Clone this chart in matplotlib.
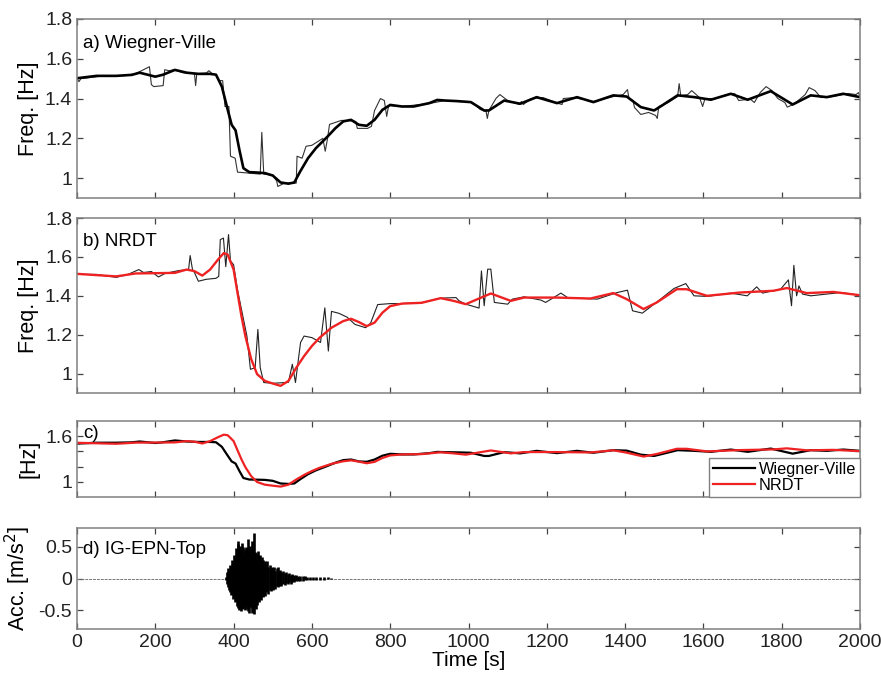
import matplotlib
matplotlib.use("Agg")
import matplotlib.pyplot as plt
from matplotlib.ticker import FormatStrFormatter

# ---- data ----
# a) Wiegner-Ville: raw estimate (thin) and smoothed (thick)
wv_raw_t = [0, 5, 10, 60, 120, 150, 175, 185, 190, 196, 220, 224, 235, 250, 270, 300, 303, 306,
            330, 337, 345, 355, 362, 372, 378, 388, 392, 404, 410, 440, 468, 472, 477, 500, 510,
            513, 530, 548, 560, 562, 575, 585, 600, 628, 634, 640, 645, 675, 690, 712, 716, 742,
            752, 760, 775, 785, 791, 796, 830, 900, 940, 972, 1000, 1010, 1030, 1045, 1048, 1052,
            1070, 1080, 1100, 1130, 1135, 1140, 1160, 1190, 1230, 1239, 1242, 1270, 1320, 1370,
            1395, 1406, 1410, 1420, 1424, 1440, 1460, 1478, 1482, 1486, 1510, 1534, 1538, 1542,
            1560, 1570, 1590, 1598, 1604, 1630, 1660, 1680, 1690, 1710, 1718, 1730, 1745, 1760,
            1775, 1790, 1808, 1814, 1830, 1860, 1870, 1885, 1900, 1930, 1970, 1990, 1996, 2000]
wv_raw_f = [1.50, 1.485, 1.50, 1.512, 1.515, 1.525, 1.55, 1.56, 1.47, 1.46, 1.465, 1.545, 1.54,
            1.545, 1.53, 1.525, 1.465, 1.525, 1.528, 1.54, 1.525, 1.52, 1.49, 1.49, 1.36, 1.36,
            1.11, 1.10, 1.03, 1.025, 1.02, 1.23, 1.02, 1.015, 0.985, 0.958, 0.975, 0.975, 0.975,
            1.11, 1.10, 1.16, 1.165, 1.20, 1.135, 1.20, 1.27, 1.29, 1.29, 1.285, 1.25, 1.25, 1.26,
            1.34, 1.40, 1.39, 1.31, 1.365, 1.36, 1.375, 1.39, 1.385, 1.385, 1.38, 1.345, 1.335,
            1.30, 1.34, 1.40, 1.42, 1.39, 1.37, 1.385, 1.37, 1.40, 1.405, 1.375, 1.37, 1.40,
            1.405, 1.385, 1.41, 1.42, 1.445, 1.40, 1.39, 1.355, 1.32, 1.33, 1.315, 1.30, 1.36,
            1.38, 1.41, 1.475, 1.415, 1.42, 1.44, 1.405, 1.36, 1.40, 1.40, 1.42, 1.425, 1.39,
            1.395, 1.40, 1.38, 1.43, 1.46, 1.44, 1.40, 1.38, 1.357, 1.37, 1.42, 1.455, 1.44,
            1.405, 1.41, 1.425, 1.42, 1.43, 1.41]

wv_t = [0, 50, 100, 140, 160, 180, 200, 220, 250, 280, 310, 340, 355, 370, 385, 395, 405, 415,
        425, 440, 460, 480, 500, 520, 540, 555, 570, 590, 610, 640, 660, 680, 700, 720, 740, 760,
        780, 800, 830, 860, 900, 920, 940, 972, 1006, 1040, 1052, 1091, 1132, 1174, 1226, 1277,
        1319, 1370, 1404, 1440, 1474, 1495, 1534, 1577, 1619, 1670, 1713, 1772, 1828, 1874, 1915,
        1957, 2000]
wv_f = [1.502, 1.514, 1.514, 1.519, 1.53, 1.52, 1.51, 1.52, 1.544, 1.53, 1.524, 1.524, 1.52,
        1.46, 1.343, 1.268, 1.24, 1.14, 1.05, 1.03, 1.028, 1.025, 1.013, 0.978, 0.972, 0.978,
        1.033, 1.10, 1.15, 1.209, 1.251, 1.285, 1.293, 1.268, 1.263, 1.293, 1.343, 1.368, 1.36,
        1.36, 1.377, 1.393, 1.39, 1.387, 1.382, 1.34, 1.34, 1.39, 1.374, 1.407, 1.377, 1.407,
        1.382, 1.416, 1.41, 1.357, 1.34, 1.366, 1.416, 1.407, 1.394, 1.424, 1.394, 1.437, 1.37,
        1.416, 1.407, 1.424, 1.407]

# b) NRDT: raw estimate (thin black) and smoothed (red)
nrdt_raw_t = [0, 50, 100, 130, 158, 170, 190, 208, 225, 260, 285, 289, 295, 300, 310, 330, 355,
              362, 366, 374, 380, 387, 392, 400, 410, 434, 443, 455, 462, 468, 477, 500, 540, 550,
              558, 571, 580, 600, 622, 633, 642, 650, 669, 690, 710, 737, 750, 768, 800, 830, 880,
              929, 968, 976, 993, 1027, 1033, 1040, 1049, 1057, 1066, 1100, 1112, 1142, 1185,
              1197, 1236, 1253, 1329, 1380, 1406, 1419, 1444, 1474, 1525, 1555, 1576, 1610, 1670,
              1712, 1736, 1751, 1797, 1817, 1825, 1831, 1838, 1844, 1853, 1874, 1951, 2000]
nrdt_raw_f = [1.51, 1.51, 1.495, 1.51, 1.535, 1.52, 1.525, 1.497, 1.515, 1.53, 1.535, 1.607,
              1.535, 1.52, 1.475, 1.485, 1.49, 1.50, 1.689, 1.697, 1.55, 1.715, 1.58, 1.56, 1.43,
              1.193, 1.022, 1.03, 1.227, 1.03, 0.954, 0.95, 0.955, 1.048, 0.954, 1.16, 1.193,
              1.185, 1.16, 1.338, 1.116, 1.32, 1.31, 1.29, 1.253, 1.236, 1.26, 1.355, 1.36, 1.36,
              1.365, 1.388, 1.391, 1.374, 1.357, 1.337, 1.528, 1.349, 1.537, 1.537, 1.366, 1.357,
              1.383, 1.395, 1.378, 1.366, 1.414, 1.391, 1.383, 1.417, 1.429, 1.323, 1.311, 1.357,
              1.438, 1.463, 1.40, 1.397, 1.414, 1.40, 1.446, 1.414, 1.434, 1.482, 1.349, 1.557,
              1.40, 1.451, 1.409, 1.40, 1.417, 1.403]

nrdt_t = [0, 100, 150, 250, 280, 300, 320, 340, 360, 375, 385, 400, 410, 420, 430, 445, 460, 480,
          500, 520, 540, 560, 580, 600, 620, 650, 680, 700, 720, 740, 760, 780, 800, 830, 880, 929,
          962, 993, 1057, 1108, 1142, 1226, 1311, 1370, 1404, 1447, 1481, 1532, 1557, 1609, 1694,
          1779, 1813, 1864, 1932, 2000]
nrdt_f = [1.513, 1.50, 1.515, 1.518, 1.535, 1.527, 1.504, 1.535, 1.586, 1.62, 1.612, 1.535, 1.415,
          1.296, 1.193, 1.074, 0.997, 0.962, 0.949, 0.937, 0.962, 1.03, 1.09, 1.142, 1.185, 1.236,
          1.27, 1.282, 1.265, 1.244, 1.262, 1.313, 1.347, 1.36, 1.364, 1.388, 1.374, 1.357, 1.412,
          1.374, 1.391, 1.391, 1.386, 1.414, 1.383, 1.332, 1.366, 1.434, 1.434, 1.40, 1.417,
          1.426, 1.44, 1.414, 1.42, 1.403]

# d) IG-EPN-Top acceleration: upper / lower trace envelope per sample time
acc_t = [380, 383, 385, 388, 390, 393, 395, 398, 400, 403, 405, 408, 410, 412, 414, 416, 418, 420,
         422, 424, 426, 428, 430, 432, 434, 436, 438, 440, 442, 444, 446, 448, 450, 452, 454, 456,
         458, 460, 462, 464, 466, 468, 470, 472, 474, 476, 478, 480, 483, 486, 489, 492, 495, 498,
         501, 504, 507, 510, 513, 516, 519, 522, 526, 530, 534, 538, 542, 546, 550, 555, 560, 565,
         570, 576, 582, 588, 595, 602, 610, 620, 630, 640, 650]
acc_hi = [0.02, 0.10, 0.16, 0.12, 0.22, 0.18, 0.30, 0.26, 0.38, 0.32, 0.48, 0.40, 0.55, 0.60, 0.42,
          0.52, 0.44, 0.38, 0.56, 0.50, 0.40, 0.47, 0.36, 0.50, 0.42, 0.62, 0.48, 0.44, 0.52, 0.38,
          0.60, 0.46, 0.40, 0.72, 0.42, 0.35, 0.40, 0.30, 0.44, 0.36, 0.28, 0.38, 0.30, 0.34, 0.24,
          0.30, 0.22, 0.28, 0.20, 0.27, 0.18, 0.22, 0.15, 0.19, 0.14, 0.18, 0.12, 0.17, 0.19, 0.11,
          0.14, 0.10, 0.12, 0.08, 0.10, 0.07, 0.09, 0.06, 0.07, 0.05, 0.06, 0.04, 0.045, 0.035,
          0.04, 0.03, 0.025, 0.03, 0.02, 0.025, 0.018, 0.02, 0.015]
acc_lo = [-0.02, -0.09, -0.14, -0.18, -0.22, -0.26, -0.24, -0.33, -0.30, -0.38, -0.35, -0.44,
          -0.40, -0.46, -0.50, -0.38, -0.47, -0.52, -0.44, -0.49, -0.40, -0.50, -0.44, -0.38,
          -0.48, -0.52, -0.42, -0.54, -0.45, -0.40, -0.55, -0.46, -0.52, -0.56, -0.45, -0.48,
          -0.38, -0.42, -0.33, -0.38, -0.32, -0.30, -0.34, -0.26, -0.30, -0.28, -0.24, -0.27,
          -0.22, -0.20, -0.25, -0.18, -0.20, -0.15, -0.18, -0.13, -0.16, -0.12, -0.14, -0.12,
          -0.10, -0.12, -0.09, -0.10, -0.07, -0.09, -0.06, -0.08, -0.05, -0.06, -0.04, -0.045,
          -0.035, -0.04, -0.03, -0.03, -0.03, -0.025, -0.02, -0.02, -0.018, -0.015, -0.015]
quiet_t = [0, 2000]
quiet_acc = [0, 0]

time_ticks = [0, 200, 400, 600, 800, 1000, 1200, 1400, 1600, 1800, 2000]

plt.rcParams["font.family"] = ["Liberation Sans", "DejaVu Sans"]
plt.rcParams["axes.unicode_minus"] = False

SPINE = "#808080"
RED = "#ee2222"


def style_axes(ax, show_x=False):
    for s in ax.spines.values():
        s.set_color(SPINE)
        s.set_linewidth(1.1)
    ax.tick_params(direction="in", length=4.5, width=0.9, color="#444444",
                   top=True, right=True, labelsize=14, labelcolor="#222222")
    ax.set_xlim(0, 2000)
    ax.set_xticks(time_ticks)
    if not show_x:
        ax.set_xticklabels([])


fig = plt.figure(figsize=(8.81, 6.73), dpi=100)

# a) Wiegner-Ville
ax_a = fig.add_axes([0.0874, 0.7058, 0.8888, 0.266])
ax_a.plot(wv_raw_t, wv_raw_f, color="#333333", linewidth=0.8)
ax_a.plot(wv_t, wv_f, color="black", linewidth=1.9)
ax_a.set_ylim(0.9, 1.8)
ax_a.set_yticks([1, 1.2, 1.4, 1.6, 1.8])
ax_a.yaxis.set_major_formatter(FormatStrFormatter("%g"))
ax_a.set_ylabel("Freq. [Hz]", fontsize=15.5)
ax_a.text(0.008, 0.865, "a) Wiegner-Ville", transform=ax_a.transAxes, fontsize=13.5,
          ha="left", va="center")
style_axes(ax_a)

# b) NRDT
ax_b = fig.add_axes([0.0874, 0.416, 0.8888, 0.260])
ax_b.plot(nrdt_raw_t, nrdt_raw_f, color="#222222", linewidth=0.8)
ax_b.plot(nrdt_t, nrdt_f, color=RED, linewidth=1.7)
ax_b.set_ylim(0.9, 1.8)
ax_b.set_yticks([1, 1.2, 1.4, 1.6, 1.8])
ax_b.yaxis.set_major_formatter(FormatStrFormatter("%g"))
ax_b.set_ylabel("Freq. [Hz]", fontsize=15.5)
ax_b.text(0.008, 0.865, "b) NRDT", transform=ax_b.transAxes, fontsize=13.5,
          ha="left", va="center")
style_axes(ax_b)

# c) comparison
ax_c = fig.add_axes([0.0874, 0.2615, 0.8888, 0.113])
ax_c.plot(wv_t, wv_f, color="black", linewidth=1.6, label="Wiegner-Ville")
ax_c.plot(nrdt_t, nrdt_f, color=RED, linewidth=1.6, label="NRDT")
ax_c.set_ylim(0.8, 1.8)
ax_c.set_yticks([1, 1.2, 1.4, 1.6])
ax_c.set_yticklabels(["1", "", "", "1.6"])
ax_c.set_ylabel("[Hz]", fontsize=15.5)
ax_c.text(0.008, 0.83, "c)", transform=ax_c.transAxes, fontsize=13.5, ha="left", va="center")
leg = ax_c.legend(loc="lower right", borderaxespad=0, fontsize=11.7, fancybox=False,
                  handlelength=2.6, handletextpad=0.2, borderpad=0.25, labelspacing=0.05,
                  framealpha=1)
leg.get_frame().set_edgecolor(SPINE)
leg.get_frame().set_linewidth(1.0)
style_axes(ax_c)

# d) acceleration record
ax_d = fig.add_axes([0.0874, 0.0654, 0.8888, 0.150])
ax_d.plot(quiet_t, quiet_acc, color="#777777", linewidth=0.7, linestyle=(0, (3, 1)))
ax_d.vlines(acc_t, acc_lo, acc_hi, color="black", linewidth=1.9)
ax_d.set_ylim(-0.8, 0.8)
ax_d.set_yticks([-0.5, 0, 0.5])
ax_d.yaxis.set_major_formatter(FormatStrFormatter("%g"))
ax_d.set_ylabel("Acc. [m/s$^2$]", fontsize=15.5)
ax_d.set_xlabel("Time [s]", fontsize=15, labelpad=0)
ax_d.text(0.008, 0.79, "d) IG-EPN-Top", transform=ax_d.transAxes, fontsize=13.5,
          ha="left", va="center")
style_axes(ax_d, show_x=True)

fig.savefig("out.png", dpi=100)
